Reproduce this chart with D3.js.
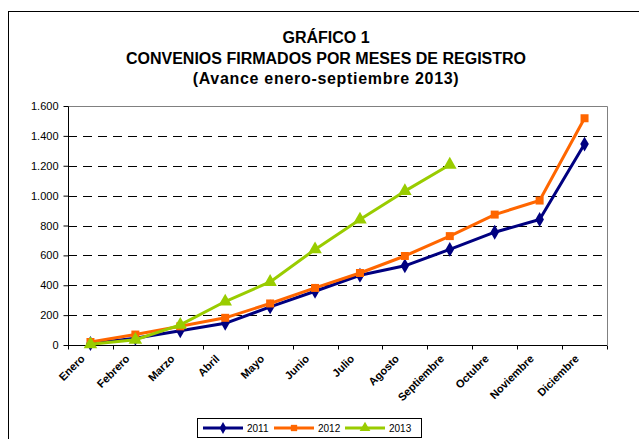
<!DOCTYPE html>
<html>
<head>
<meta charset="utf-8">
<script src="https://cdn.jsdelivr.net/npm/d3@7"></script>
<style>
  body { margin: 0; background: #fff; }
  svg { display: block; font-family: "Liberation Sans", Arial, sans-serif; }
</style>
</head>
<body>
<svg id="chart" width="639" height="439"></svg>
<script>
const months = ['Enero', 'Febrero', 'Marzo', 'Abril', 'Mayo', 'Junio', 'Julio',
  'Agosto', 'Septiembre', 'Octubre', 'Noviembre', 'Diciembre'];
const values2011 = [10, 45, 95, 145, 255, 360, 467, 530, 640, 755, 840, 1345];
const values2012 = [20, 70, 125, 182, 278, 382, 482, 596, 729, 873, 967, 1518];
const values2013 = [5, 35, 135, 291, 422, 640, 840, 1030, 1207];
const yTicks = [0, 200, 400, 600, 800, 1000, 1200, 1400, 1600];
const titleLines = ['GRÁFICO 1', 'CONVENIOS FIRMADOS POR MESES DE REGISTRO',
  '(Avance enero-septiembre 2013)'];

const series = [
  { name: '2011', values: values2011, color: '#000080', symbol: d3.symbolDiamond },
  { name: '2012', values: values2012, color: '#FF6600', symbol: d3.symbolSquare },
  { name: '2013', values: values2013, color: '#99CC00', symbol: d3.symbolTriangle },
];

const svg = d3.select('#chart');
const margin = { top: 106, left: 68, right: 32, bottom: 94 };
const width = 639 - margin.left - margin.right;
const height = 439 - margin.top - margin.bottom;

// outer frame (runs off the page like the original)
svg.append('rect')
    .attr('x', 8.5)
    .attr('y', 11.5)
    .attr('width', 700)
    .attr('height', 500)
    .attr('fill', 'none')
    .attr('stroke', '#000');

svg.append('g')
    .attr('font-weight', 'bold')
    .attr('font-size', 16)
    .attr('text-anchor', 'middle')
  .selectAll('text')
  .data(titleLines)
  .join('text')
    .attr('x', 326)
    .attr('y', (d, i) => 43 + i * 20.5)
    .attr('letter-spacing', (d, i) => i === 2 ? 0.7 : 0)
    .text(d => d);

const g = svg.append('g').attr('transform', `translate(${margin.left},${margin.top})`);

const x = d3.scaleBand().domain(months).range([0, width]);
const y = d3.scaleLinear().domain([0, 1600]).range([height, 0]);

// plot area border (top + right, grey)
g.append('path')
    .attr('d', `M0.5,0.5H${width + 0.5}V${height}`)
    .attr('fill', 'none')
    .attr('stroke', '#808080');

g.append('g')
    .selectAll('line')
    .data(yTicks.filter(d => d > 0 && d < 1600))
    .join('line')
      .attr('x1', 0)
      .attr('x2', width)
      .attr('y1', d => Math.round(y(d)) + 0.5)
      .attr('y2', d => Math.round(y(d)) + 0.5)
      .attr('stroke', '#000')
      .attr('stroke-dasharray', '9,6');

const yAxis = g.append('g')
    .attr('transform', 'translate(0.5,0)')
    .call(d3.axisLeft(y)
      .tickValues(yTicks)
      .tickSize(5)
      .tickPadding(5)
      .tickFormat(d => d3.format(',')(d).replace(',', '.')));
yAxis.select('.domain').attr('d', `M0,0.5V${height}`).attr('stroke', '#000');
yAxis.selectAll('.tick line').attr('stroke', '#000');
yAxis.selectAll('text')
    .attr('font-size', 11)
    .attr('font-family', '"Liberation Sans", Arial, sans-serif')
    .attr('fill', '#000');

const xAxis = g.append('g')
    .attr('transform', `translate(0,${height + 0.5})`)
    .call(d3.axisBottom(x).tickSize(0).tickFormat(''));
xAxis.select('.domain').attr('d', `M0,0H${width}`).attr('stroke', '#000');

xAxis.selectAll('.bound')
    .data(d3.range(months.length + 1))
    .join('line')
      .attr('x1', i => Math.round(i * x.bandwidth()) + 0.5)
      .attr('x2', i => Math.round(i * x.bandwidth()) + 0.5)
      .attr('y1', 0)
      .attr('y2', 4)
      .attr('stroke', '#000');

xAxis.append('g')
  .selectAll('text')
  .data(months)
  .join('text')
    .attr('transform', d => `translate(${x(d) + x.bandwidth() / 2 - 5},${14}) rotate(-45)`)
    .attr('text-anchor', 'end')
    .attr('font-size', 11)
    .attr('font-weight', 'bold')
    .attr('fill', '#000')
    .text(d => d);

const line = d3.line()
    .x((d, i) => x(months[i]) + x.bandwidth() / 2)
    .y(d => y(d));

series.forEach(s => {
  g.append('path')
      .datum(s.values)
      .attr('fill', 'none')
      .attr('stroke', s.color)
      .attr('stroke-width', 3)
      .attr('stroke-linejoin', 'round')
      .attr('d', line);

  g.append('g')
    .selectAll('path')
    .data(s.values)
    .join('path')
      .attr('transform', (d, i) => `translate(${x(months[i]) + x.bandwidth() / 2},${y(d)})`)
      .attr('d', d3.symbol().type(s.symbol).size(s.name === '2013' ? 80 : 64))
      .attr('fill', s.color);
});

// legend
const legend = svg.append('g').attr('transform', 'translate(197,418)');
legend.append('rect')
    .attr('x', 0.5)
    .attr('y', 0.5)
    .attr('width', 224)
    .attr('height', 19)
    .attr('fill', '#fff')
    .attr('stroke', '#000');

const item = legend.selectAll('.item')
  .data(series)
  .join('g')
    .attr('transform', (d, i) => `translate(${6 + i * 71},10)`);

item.append('line')
    .attr('x1', 0)
    .attr('x2', 40)
    .attr('stroke', d => d.color)
    .attr('stroke-width', 3);

item.append('path')
    .attr('transform', 'translate(20,0)')
    .attr('d', d => d3.symbol().type(d.symbol).size(d.name === '2013' ? 50 : 40)())
    .attr('fill', d => d.color);

item.append('text')
    .attr('x', 44)
    .attr('y', 4)
    .attr('font-size', 10)
    .text(d => d.name);
</script>
</body>
</html>
